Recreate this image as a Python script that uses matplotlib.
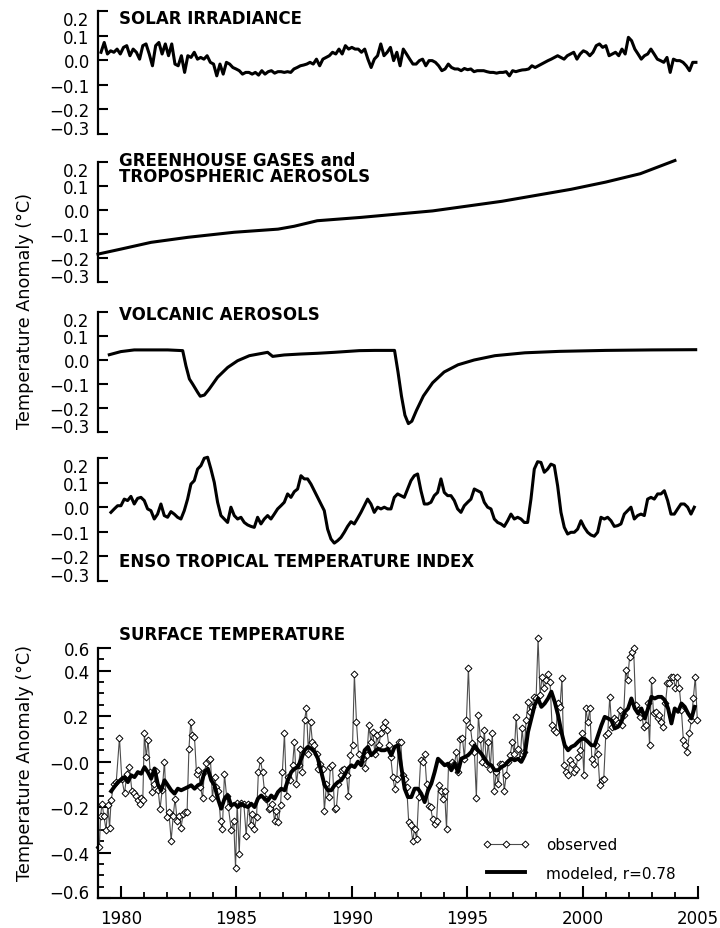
import numpy as np
import matplotlib.pyplot as plt
from matplotlib.lines import Line2D

plt.rcParams['font.family'] = ['DejaVu Sans']

# ---- data (temperature anomaly, deg C) ----
solar_temp = [
    0.033, 0.073, 0.026, 0.039, 0.033, 0.046, 0.026, 0.053, 0.060, 0.019,
    0.046, 0.033, 0.005, 0.060, 0.067, 0.026, -0.022, 0.060, 0.073, 0.026,
    0.067, 0.019, 0.067, -0.015, -0.022, 0.019, -0.049, 0.019, 0.012, 0.033,
    0.005, 0.012, 0.005, 0.019, -0.008, -0.015, -0.063, -0.015, -0.056, -0.008,
    -0.015, -0.029, -0.035, -0.042, -0.056, -0.049, -0.049, -0.056, -0.049, -0.060,
    -0.042, -0.056, -0.046, -0.042, -0.052, -0.046, -0.046, -0.049, -0.046, -0.049,
    -0.035, -0.029, -0.022, -0.019, -0.015, -0.008, -0.015, 0.005, -0.022, 0.005,
    0.012, 0.019, 0.033, 0.026, 0.046, 0.026, 0.060, 0.046, 0.053, 0.046,
    0.046, 0.033, 0.046, 0.005, -0.029, 0.005, 0.019, 0.067, 0.019, 0.033,
    0.053, -0.001, 0.033, -0.022, 0.046, 0.026, 0.005, -0.015, -0.015, -0.001,
    0.005, -0.022, -0.001, -0.001, -0.008, -0.022, -0.042, -0.035, -0.015, -0.029,
    -0.035, -0.035, -0.042, -0.033, -0.038, -0.035, -0.046, -0.042, -0.042, -0.042,
    -0.046, -0.049, -0.049, -0.052, -0.049, -0.049, -0.046, -0.063, -0.042, -0.046,
    -0.042, -0.039, -0.038, -0.035, -0.022, -0.029, -0.022, -0.015, -0.008, -0.001,
    0.005, 0.012, 0.019, 0.012, 0.005, 0.019, 0.026, 0.033, 0.005, 0.026,
    0.039, 0.033, 0.019, 0.033, 0.060, 0.067, 0.053, 0.060, 0.019, 0.026,
    0.033, 0.019, 0.046, 0.026, 0.094, 0.080, 0.046, 0.026, 0.005, 0.019,
    0.026, 0.046, 0.026, 0.005, -0.001, -0.008, 0.012, -0.049, 0.005, -0.001,
    -0.001, -0.008, -0.022, -0.042, -0.008, -0.008,
]
solar_year = np.linspace(1979.13, 2004.91, len(solar_temp))

ghg_year = [1979.0, 1980.0, 1981.3, 1982.9, 1984.9, 1986.8, 1987.5, 1988.5,
            1990.4, 1992.0, 1993.5, 1995.0, 1996.5, 1998.0, 1999.5, 2001.0,
            2002.5, 2004.0]
ghg_temp = [-0.185, -0.164, -0.136, -0.115, -0.094, -0.081, -0.069, -0.046,
            -0.032, -0.018, -0.005, 0.015, 0.035, 0.060, 0.085, 0.115,
            0.150, 0.205]

volc_year = [1979.49, 1979.99, 1980.57, 1981.30, 1982.02, 1982.67, 1982.81,
             1982.96, 1983.10, 1983.32, 1983.43, 1983.61, 1983.82, 1984.18,
             1984.62, 1985.05, 1985.56, 1986.35, 1986.57, 1987.07, 1987.80,
             1988.52, 1989.24, 1990.32, 1991.0, 1991.85, 1992.0, 1992.15,
             1992.3, 1992.45, 1992.6, 1992.8, 1993.1, 1993.5, 1994.0, 1994.6,
             1995.3, 1996.2, 1997.5, 1999.0, 2001.0, 2003.0, 2004.9]
volc_temp = [0.022, 0.035, 0.042, 0.042, 0.042, 0.039, -0.024, -0.079, -0.100,
             -0.135, -0.151, -0.146, -0.121, -0.072, -0.031, -0.003, 0.018,
             0.032, 0.015, 0.021, 0.025, 0.028, 0.032, 0.039, 0.040, 0.040,
             -0.050, -0.150, -0.230, -0.265, -0.255, -0.210, -0.150, -0.095,
             -0.050, -0.020, 0.000, 0.018, 0.030, 0.036, 0.040, 0.042, 0.043]

enso_temp = [
    -0.021, -0.007, 0.006, 0.006, 0.033, 0.027, 0.044, 0.013, 0.036, 0.040,
    0.027, -0.007, -0.014, -0.048, -0.028, 0.013, -0.034, -0.041, -0.018, -0.028,
    -0.041, -0.048, -0.014, 0.033, 0.094, 0.108, 0.155, 0.169, 0.199, 0.203,
    0.155, 0.101, 0.020, -0.034, -0.048, -0.062, 0.000, -0.034, -0.048, -0.041,
    -0.062, -0.072, -0.078, -0.082, -0.041, -0.068, -0.048, -0.034, -0.048, -0.028,
    -0.007, 0.006, 0.020, 0.054, 0.040, 0.063, 0.074, 0.128, 0.115, 0.115,
    0.094, 0.067, 0.040, 0.013, -0.014, -0.089, -0.129, -0.146, -0.136, -0.123,
    -0.102, -0.078, -0.059, -0.068, -0.045,
    -0.021, 0.006, 0.033, 0.013, -0.021, 0.000, -0.007, 0.000, -0.007, -0.007,
    0.040, 0.054, 0.047, 0.040, 0.074, 0.108, 0.128, 0.135, 0.067, 0.013,
    0.013, 0.020, 0.047, 0.060, 0.115, 0.060, 0.047, 0.047, 0.027, -0.007,
    -0.021, 0.006, 0.020, 0.033, 0.074, 0.067, 0.060, 0.020, 0.000, -0.007,
    -0.048, -0.062, -0.068, -0.078, -0.055, -0.028, -0.048, -0.041, -0.048, -0.062,
    -0.062, 0.033, 0.155, 0.185, 0.182, 0.142, 0.155, 0.175, 0.169, 0.087,
    -0.021, -0.082, -0.109, -0.102, -0.102, -0.089, -0.055, -0.082, -0.102, -0.113,
    -0.118, -0.102, -0.041, -0.048, -0.041, -0.055, -0.078, -0.075, -0.068, -0.028,
    -0.014, 0.000, -0.048, -0.034, -0.028, -0.034, 0.033, 0.040, 0.033, 0.054,
    0.054, 0.067, 0.027, -0.028, -0.028, -0.007, 0.013, 0.013, 0.000, -0.028,
    0.000,
]
enso_year = np.linspace(1979.56, 2004.84, len(enso_temp))

obs_year_early = [
    1979.06, 1979.11, 1979.18, 1979.25, 1979.35, 1979.43, 1979.50, 1979.57, 1979.69, 1979.79,
    1979.93, 1980.03, 1980.15, 1980.25, 1980.36, 1980.47, 1980.55, 1980.65, 1980.73, 1980.80,
    1980.87, 1980.94, 1981.01, 1981.09, 1981.17, 1981.26, 1981.35, 1981.43, 1981.52, 1981.61,
    1981.69, 1981.78, 1981.88, 1981.98, 1982.07, 1982.17, 1982.26, 1982.34, 1982.43, 1982.52,
    1982.60, 1982.69, 1982.78, 1982.86, 1982.94, 1983.02, 1983.09, 1983.18, 1983.27, 1983.35,
    1983.44, 1983.53, 1983.61, 1983.70, 1983.79, 1983.87, 1983.96, 1984.05, 1984.13, 1984.22,
    1984.31, 1984.39, 1984.48, 1984.57, 1984.65, 1984.77, 1984.88, 1984.96, 1985.03, 1985.12,
    1985.20, 1985.32, 1985.42, 1985.52, 1985.61, 1985.69, 1985.78, 1985.87, 1985.95, 1986.04,
    1986.13, 1986.21, 1986.30, 1986.39, 1986.47, 1986.56, 1986.65, 1986.73, 1986.82, 1986.91,
    1986.99, 1987.08, 1987.17, 1987.25, 1987.34, 1987.43, 1987.51, 1987.60, 1987.69, 1987.77,
    1987.86, 1987.95, 1988.03, 1988.12, 1988.21, 1988.29, 1988.38, 1988.47, 1988.55, 1988.64,
    1988.73, 1988.81, 1988.90, 1988.99, 1989.07, 1989.16, 1989.25, 1989.33, 1989.42, 1989.51,
    1989.59, 1989.68, 1989.77, 1989.85, 1989.94, 1990.03, 1990.11, 1990.20, 1990.29,
]
obs_temp_early = [
    -0.376, -0.237, -0.185, -0.237, -0.300, -0.190, -0.290, -0.168, -0.100, -0.090,
    0.104, -0.075, -0.140, -0.053, -0.024, -0.130, -0.140, -0.150, -0.170, -0.185,
    -0.160, -0.170, 0.124, 0.020, 0.094, -0.046, -0.134, -0.100, -0.040, -0.126,
    -0.207, -0.126, 0.000, -0.244, -0.220, -0.347, -0.237, -0.163, -0.260, -0.237,
    -0.290, -0.230, -0.220, -0.220, 0.057, 0.175, 0.116, 0.109, -0.053, -0.038,
    -0.110, -0.160, -0.046, -0.004, 0.006, 0.013, -0.160, -0.068, -0.110, -0.130,
    -0.263, -0.295, -0.053, -0.150, -0.200, -0.300, -0.260, -0.470, -0.180, -0.405,
    -0.180, -0.185, -0.325, -0.185, -0.280, -0.230, -0.295, -0.244, -0.046, 0.006,
    -0.046, -0.126, -0.163, -0.207, -0.204, -0.185, -0.260, -0.215, -0.266, -0.190,
    -0.046, 0.124, -0.150, -0.068, -0.082, -0.016, 0.087, -0.100, -0.016, 0.057,
    -0.046, 0.182, 0.234, 0.035, 0.175, 0.087, 0.072, 0.035, -0.031, -0.009,
    -0.031, -0.215, -0.100, -0.156, -0.024, -0.016, -0.210, -0.204, -0.100, -0.060,
    -0.038, -0.034, -0.060, -0.150, 0.028, 0.072, 0.384, 0.175, 0.035,
]
obs_temp_late = [
    0.013, -0.030, 0.028, 0.160, 0.087, 0.130, 0.035, 0.116, 0.072, 0.124,
    0.153, 0.175, 0.140, 0.072, 0.020, -0.068, -0.120, -0.075, 0.087, 0.087,
    -0.060, -0.075, -0.112, -0.266, -0.280, -0.347, -0.296, -0.340, -0.156, 0.006,
    0.000, 0.035, -0.097, -0.193, -0.200, -0.252, -0.274, -0.260, -0.104, -0.127,
    -0.163, -0.127, -0.296, -0.016, -0.009, -0.001, -0.009, 0.043, -0.046, 0.100,
    0.104, 0.013, 0.182, 0.414, 0.153, 0.080, 0.043, -0.159, 0.205, 0.100,
    -0.001, 0.138, -0.009, 0.087, -0.031, 0.124, -0.127, -0.046, -0.097, -0.009,
    -0.009, -0.127, -0.060, -0.001, 0.028, 0.087, 0.035, 0.197, 0.057, 0.013,
    0.146, 0.043, 0.182, 0.263, 0.219, 0.241, 0.285, 0.278, 0.543, 0.293,
    0.374, 0.322, 0.359, 0.384, 0.352, 0.160, 0.138, 0.131, 0.256, 0.241,
    0.366, -0.016, -0.046, -0.060, 0.006, -0.009, -0.046, -0.031, 0.020, 0.050,
    0.124, -0.060, 0.234, 0.175, 0.234, 0.013, -0.009, 0.072, 0.035, -0.104,
    -0.082, -0.075, 0.116, 0.124, 0.285, 0.153, 0.190, 0.182, 0.168, 0.227,
    0.160, 0.205, 0.403, 0.359, 0.462, 0.484, 0.499, 0.249, 0.227, 0.197,
    0.212, 0.153, 0.160, 0.256, 0.072, 0.359, 0.212, 0.219, 0.190, 0.205,
    0.175, 0.153, 0.256, 0.344, 0.344, 0.374, 0.374, 0.322, 0.374, 0.322,
    0.227, 0.094, 0.072, 0.043, 0.124, 0.182, 0.278, 0.374, 0.182,
]
obs_year = np.concatenate([obs_year_early,
                           np.linspace(1990.48, 2004.97, len(obs_temp_late))])
obs_temp = np.concatenate([obs_temp_early, obs_temp_late])

model_temp = [
    -0.130, -0.110, -0.090, -0.080, -0.068, -0.090, -0.060, -0.068, -0.046, -0.053,
    -0.024, -0.046, -0.075, -0.030, -0.100, -0.126, -0.082, -0.104, -0.126, -0.141,
    -0.119, -0.126, -0.119, -0.112, -0.104, -0.119, -0.104, -0.097, -0.046, -0.031,
    -0.082, -0.104, -0.163, -0.207, -0.163, -0.149, -0.193, -0.185, -0.200, -0.185,
    -0.193, -0.200, -0.185, -0.200, -0.163, -0.149, -0.163, -0.171, -0.149, -0.163,
    -0.134, -0.119, -0.126, -0.082, -0.046, -0.031, -0.024, 0.013, 0.050, 0.065,
    0.057, 0.043, 0.013, -0.046, -0.104, -0.126, -0.126, -0.104, -0.090, -0.082,
    -0.060, -0.031, -0.016, -0.024, 0.000,
    -0.016, 0.050, 0.065, 0.028, 0.043, 0.057, 0.050, 0.050, 0.057, 0.028,
    0.065, 0.072, -0.024, -0.119, -0.156, -0.156, -0.119, -0.119, -0.141, -0.178,
    -0.127, -0.097, -0.046, 0.013, -0.001, -0.016, -0.009, -0.038, -0.009, -0.046,
    0.013, 0.020, 0.028, 0.043, 0.072, 0.050, 0.035, 0.013, -0.009, -0.016,
    -0.038, -0.038, -0.024, -0.016, -0.001, 0.013, 0.006, 0.013, -0.001, 0.028,
    0.131, 0.190, 0.249, 0.278, 0.241, 0.256, 0.278, 0.308, 0.263, 0.205,
    0.131, 0.072, 0.050, 0.065, 0.072, 0.087, 0.100, 0.100, 0.087, 0.072,
    0.072, 0.116, 0.160, 0.197, 0.190, 0.182, 0.146, 0.153, 0.175, 0.219,
    0.234, 0.278, 0.234, 0.212, 0.234, 0.190, 0.234, 0.285, 0.278, 0.285,
    0.285, 0.271, 0.234, 0.168, 0.234, 0.219, 0.256, 0.241, 0.212, 0.190,
    0.241,
]
model_year = np.linspace(1979.57, 2004.86, len(model_temp))

top_ticks = [-0.3, -0.2, -0.1, 0.0, 0.1, 0.2]
top_labels = ['\u22120.3', '\u22120.2', '\u22120.1', '0.0', '0.1', '0.2']
bot_ticks = [-0.6, -0.4, -0.2, 0.0, 0.2, 0.4, 0.5]
bot_labels = ['\u22120.6', '\u22120.4', '\u22120.2', '\u22120.0', '0.2', '0.4', '0.6']
year_ticks = [1980, 1985, 1990, 1995, 2000, 2005]

# ---- layout (pixel geometry of the reference) ----
W, H = 720, 929
fig = plt.figure(figsize=(7.2, 9.29), dpi=100)


def panel(top, bottom):
    return fig.add_axes([98 / W, 1 - bottom / H, 600 / W, (bottom - top) / H])


def style_top(ax):
    ax.set_xlim(1979, 2005)
    ax.set_ylim(-0.3, 0.2)
    for s in ['top', 'right', 'bottom']:
        ax.spines[s].set_visible(False)
    ax.spines['left'].set_linewidth(1.6)
    ax.set_xticks([])
    ax.set_yticks(top_ticks)
    ax.set_yticklabels(top_labels)
    ax.tick_params(axis='y', direction='in', length=7.5, width=1.5, pad=6,
                   labelsize=12)
    lbl = ax.get_yticklabels()
    lbl[0].set_va('baseline')
    lbl[-1].set_va('top')
    ax.patch.set_visible(False)


title_kw = dict(fontsize=12, fontweight='bold', ha='left', va='center')
line_kw = dict(color='black', lw=2.2, clip_on=False, solid_joinstyle='round')
ylab_kw = dict(rotation=90, ha='center', va='center', fontsize=12.7)

ax1 = panel(12.3, 135)
style_top(ax1)
ax1.plot(solar_year, solar_temp, **line_kw)
ax1.text(0.035, 0.948, 'SOLAR IRRADIANCE', transform=ax1.transAxes, **title_kw)

ax2 = panel(162.7, 282.7)
style_top(ax2)
ax2.plot(ghg_year, ghg_temp, **line_kw)
ax2.text(0.035, 0.948, 'GREENHOUSE GASES and\nTROPOSPHERIC AEROSOLS',
         transform=ax2.transAxes, linespacing=0.85, **title_kw)

ax3 = panel(313, 433)
style_top(ax3)
ax3.plot(volc_year, volc_temp, **line_kw)
ax3.text(0.035, 0.98, 'VOLCANIC AEROSOLS', transform=ax3.transAxes, **title_kw)

ax4 = panel(459, 582)
style_top(ax4)
ax4.plot(enso_year, enso_temp, **line_kw)
ax4.text(0.035, 0.159, 'ENSO TROPICAL TEMPERATURE INDEX',
         transform=ax4.transAxes, **title_kw)

fig.text(25 / W, 1 - 311 / H, 'Temperature Anomaly (\u00b0C)', **ylab_kw)

# ---- surface temperature panel ----
ax5 = panel(649, 899)
ax5.set_xlim(1979, 2005)
ax5.set_ylim(-0.6, 0.5)
for s in ['top', 'right']:
    ax5.spines[s].set_visible(False)
for s in ['left', 'bottom']:
    ax5.spines[s].set_linewidth(1.6)
ax5.set_xticks(year_ticks)
ax5.set_xticks(np.arange(1979, 2006), minor=True)
ax5.set_yticks(bot_ticks)
ax5.set_yticklabels(bot_labels)
ax5.set_yticks(np.arange(-0.6, 0.51, 0.05), minor=True)
ax5.tick_params(which='major', direction='in', length=9, width=1.5, labelsize=12)
ax5.tick_params(which='minor', direction='in', length=4.5, width=1.3)
ax5.tick_params(axis='x', which='major', pad=8)
ax5.tick_params(axis='y', which='major', pad=6)
ax5.get_yticklabels()[0].set_va('baseline')

ax5.plot(obs_year, obs_temp, color='0.3', lw=0.8, marker='D', ms=3.5,
         mfc='white', mec='black', mew=0.7, clip_on=False)
ax5.plot(model_year, model_temp, color='black', lw=2.8, clip_on=False,
         solid_joinstyle='round')
ax5.text(0.035, 1.056, 'SURFACE TEMPERATURE', transform=ax5.transAxes,
         **title_kw)
fig.text(25 / W, 1 - 763 / H, 'Temperature Anomaly (\u00b0C)', **ylab_kw)

handles = [Line2D([], [], color='0.3', lw=0.8, marker='D', ms=3.5, mfc='white',
                  mec='black', mew=0.7),
           Line2D([], [], color='black', lw=2.8)]
ax5.legend(handles, ['observed', 'modeled, r=0.78'], loc='upper left',
           bbox_to_anchor=(0.64, 0.244), frameon=False, numpoints=3,
           handlelength=3.1, handletextpad=1.1, fontsize=11, borderpad=0,
           borderaxespad=0, labelspacing=0.9)

fig.savefig('out.png', dpi=100)
